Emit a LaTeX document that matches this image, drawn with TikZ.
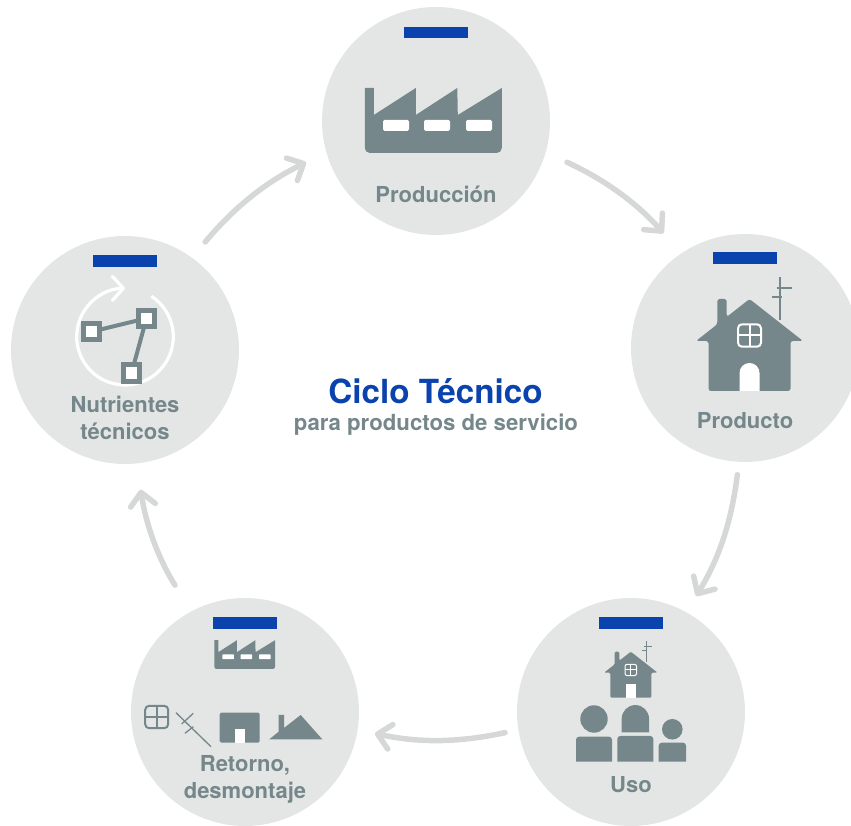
\documentclass[tikz,border=0pt]{standalone}
\usepackage{fontspec}
\setmainfont{TeX Gyre Heros}
\usetikzlibrary{arrows.meta}
\definecolor{circlegray}{HTML}{E3E6E5}
\definecolor{icongray}{HTML}{75878A}
\definecolor{arrowgray}{HTML}{D6D8D8}
\definecolor{barblue}{HTML}{0A43AD}
\newcommand{\drawfactory}[3]{
    \begin{scope}[shift={(#1,#2)}, scale=#3]
        \fill[icongray] (-68.5,30) -- (-68.5,65) -- (-59.5,65) -- (-59.5,38) -- (-17.5,65) -- (-17.5,38) -- (24,65) -- (24.5,38) -- (68.5,65) -- (68.5,30) [rounded corners=#3*5pt] -- (68.5,0) -- (-68.5,0) -- (-68.5,30) -- cycle;
        \fill[white, rounded corners=#3*1.5pt] (-50.3,22) rectangle (-24.3,33);
        \fill[white, rounded corners=#3*1.5pt] (-9.3,22) rectangle (16.7,33);
        \fill[white, rounded corners=#3*1.5pt] (32.7,22) rectangle (58.7,33);
    \end{scope}
}
\newcommand{\drawwindow}[4]{
    \begin{scope}[shift={(#1,#2)}, scale=#3]
        \draw[#4, line width=#3*2pt, rounded corners=#3*4pt] (-11.5,-11.2) rectangle (11.5,11.2);
        \draw[#4, line width=#3*2pt] (-11.5,0) -- (11.5,0);
        \draw[#4, line width=#3*2pt] (0,-11.2) -- (0,11.2);
    \end{scope}
}
\newcommand{\drawhouse}[4]{
    \begin{scope}[shift={(#1,#2)}, scale=#3]
        \draw[icongray, line width=#3*2pt] (30.5,71) -- (30.5,114.3);
        \draw[icongray, line width=#3*2pt] (27.2,103.3) -- (42.2,103.3);
        \draw[icongray, line width=#3*2pt] (22.5,94.3) -- (32.5,94.3);
        \fill[icongray, rounded corners=#3*2.5pt] (-53.5,50) -- (-32.2,66.7) -- (-32.2,92) -- (-22.8,92) -- (-22.8,74) -- (0,92) -- (53.5,50) -- (41,50) -- (41,0) -- (-41,0) -- (-41,50) -- cycle;
        \fill[white, rounded corners=#4] (-10,0) -- (-10,28) -- (10,28) -- (10,0);
    \end{scope}
    \drawwindow{#1}{#2+55.5*#3}{#3}{white}
}
\begin{document}
\begin{tikzpicture}[x=1pt, y=1pt,
    cyclecircle/.style={circle, fill=circlegray, minimum size=228pt, inner sep=0pt, outer sep=0pt},
    bluebar/.style={rectangle, fill=barblue, minimum width=63.5pt, minimum height=11.5pt, inner sep=0pt},
    circlelabel/.style={text=icongray, align=center, inner sep=0pt, font=\bfseries\fontsize{22}{26.8}\selectfont},
    cyclearrow/.style={arrowgray, line width=5.5pt, line cap=round, line join=round, bend left=12, -{Straight Barb[round, length=13pt, width=25pt]}},
    smallsquare/.style={rectangle, draw=icongray, fill=white, line width=5pt, minimum size=16.5pt, inner sep=0pt, outer sep=0pt}]
    \useasboundingbox (0,0) rectangle (851,826);

    \node[cyclecircle] (prod) at (436,705) {};
    \node[cyclecircle] (prdt) at (745,478) {};
    \node[cyclecircle] (uso) at (631,114) {};
    \node[cyclecircle] (retr) at (245,114) {};
    \node[cyclecircle] (nutr) at (125,476) {};

    \node[bluebar] (prodbar) at ([yshift=88.5pt]prod.center) {};
    \node[bluebar] (prdtbar) at ([yshift=90pt]prdt.center) {};
    \node[bluebar] (usobar) at ([yshift=89pt]uso.center) {};
    \node[bluebar] (retrbar) at ([yshift=89pt]retr.center) {};
    \node[bluebar] (nutrbar) at ([yshift=89pt]nutr.center) {};

    \node[circlelabel] (prodlabel) at ([yshift=-73pt]prod.center) {Producción};
    \node[circlelabel] (prdtlabel) at ([yshift=-73pt]prdt.center) {Producto};
    \node[circlelabel] (usolabel) at ([yshift=-73pt]uso.center) {Uso};
    \node[circlelabel] (retrlabel) at ([yshift=-67.5pt]retr.center) {Retorno,\\desmontaje};
    \node[circlelabel] (nutrlabel) at ([yshift=-68pt]nutr.center) {Nutrientes\\técnicos};

    \node[text=barblue, inner sep=0pt, font=\bfseries\fontsize{33.2}{36}\selectfont] (title) at (435.5,435) {Ciclo Técnico};
    \node[text=icongray, inner sep=0pt, font=\bfseries\fontsize{22.2}{26}\selectfont] (subtitle) at (436,401.5) {para productos de servicio};

    \draw[cyclearrow, shorten <=20.6pt, shorten >=22.7pt] (nutr.54) to (prod.196.6);
    \draw[cyclearrow, shorten <=23.6pt, shorten >=27pt] (prod.-16.5) to (prdt.124.6);
    \draw[cyclearrow, shorten <=13pt, shorten >=19pt] (prdt.-93) to (uso.61.3);
    \draw[cyclearrow, shorten <=13.6pt, shorten >=17.7pt] (uso.189) to (retr.-9.2);
    \draw[cyclearrow, shorten <=31pt, shorten >=26.6pt] (retr.118.9) to (nutr.-84.7);

    \drawfactory{433.3}{673}{1}
    \drawfactory{244.7}{157}{0.443}
    \drawhouse{749.5}{435}{1}{10pt}
    \drawhouse{630.8}{128.3}{0.5}{0pt}

    \fill[icongray] (594,107) circle (13.7);
    \fill[icongray, rounded corners=3pt] (576,64.3) -- (576,89.3) -- (612,89.3) -- (612,64.3);
    \fill[icongray] (621.7,93.7) -- (621.7,107.3) arc (180:0:13.65) -- (649,93.7) -- cycle;
    \fill[icongray, rounded corners=3pt] (617.3,64.3) -- (617.3,90) -- (653.3,90) -- (653.3,64.3);
    \fill[icongray] (672.3,96.7) circle (10.3);
    \fill[icongray, rounded corners=3pt] (658.7,64.3) -- (658.7,83.3) -- (686,83.3) -- (686,64.3);

    \drawwindow{156.7}{109}{1}{icongray}
    \draw[icongray, line width=1.3pt] (176,113.3) -- (211,79.3);
    \draw[icongray, line width=1.3pt] (193.3,112.7) -- (181.7,102);
    \draw[icongray, line width=1.3pt] (193.3,99.3) -- (185,92.7);
    \fill[icongray, rounded corners=1.5pt] (219.7,83.3) rectangle (259.7,113.3);
    \fill[white] (235,83.3) rectangle (245,96.7);
    \fill[icongray] (269.3,86.7) -- (278.7,94.3) -- (278.7,111) -- (284,111) -- (284,98) -- (300.7,111) -- (322.3,86.7) -- cycle;

    \draw[white, line width=3.2pt, -{Straight Barb[round, length=11pt, width=24pt]}] (125,489.3) ++(57:48.3) arc (57:-270:48.3);
    \node[smallsquare] (squarea) at (91.5,494.3) {};
    \node[smallsquare] (squareb) at (146.5,507.7) {};
    \node[smallsquare] (squarec) at (131.5,453) {};
    \draw[icongray, line width=4pt] (squarea) -- (squareb);
    \draw[icongray, line width=4pt] (squareb) -- (squarec);
\end{tikzpicture}
\end{document}
